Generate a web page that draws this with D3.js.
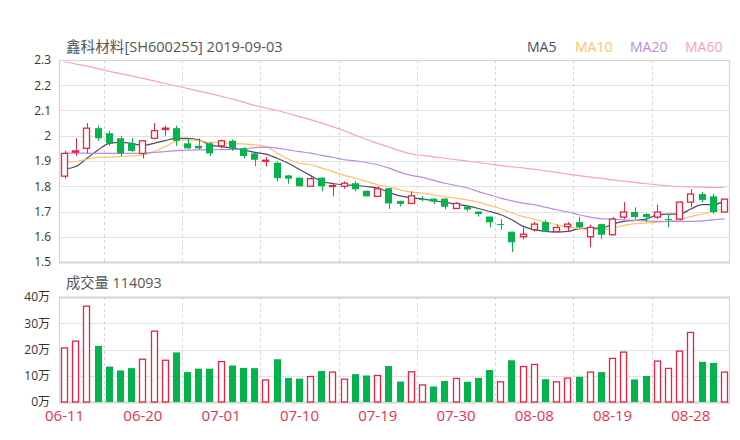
<!DOCTYPE html>
<html>
<head>
<meta charset="utf-8">
<script src="https://cdn.jsdelivr.net/npm/d3@7/dist/d3.min.js"></script>
<style>
html,body{margin:0;padding:0;background:#fff;}
svg{display:block;font-family:'Open Sans','Noto Sans CJK SC',sans-serif;}
</style>
</head>
<body>
<svg id="chart" width="740" height="440"></svg>
<script>
const title = "鑫科材料[SH600255] 2019-09-03";
const volTitle = "成交量 114093";
const dates = ["06-11","06-12","06-13","06-14","06-17","06-18","06-19","06-20","06-21","06-24",
  "06-25","06-26","06-27","06-28","07-01","07-02","07-03","07-04","07-05","07-08",
  "07-09","07-10","07-11","07-12","07-15","07-16","07-17","07-18","07-19","07-22",
  "07-23","07-24","07-25","07-26","07-29","07-30","07-31","08-01","08-02","08-05",
  "08-06","08-07","08-08","08-09","08-12","08-13","08-14","08-15","08-16","08-19",
  "08-20","08-21","08-22","08-23","08-26","08-27","08-28","08-29","08-30","09-02"];
const open  = [1.84,1.935,1.95,2.03,2.01,1.99,1.97,1.93,1.99,2.025,
  2.03,1.97,1.96,1.97,1.96,1.98,1.95,1.93,1.90,1.893,
  1.843,1.834,1.80,1.834,1.80,1.80,1.812,1.782,1.76,1.792,
  1.742,1.732,1.75,1.751,1.751,1.712,1.72,1.70,1.68,1.65,
  1.62,1.60,1.628,1.658,1.62,1.64,1.658,1.60,1.65,1.608,
  1.678,1.698,1.69,1.678,1.67,1.67,1.737,1.769,1.76,1.698];
const high  = [1.94,1.99,2.05,2.04,2.02,2.00,1.99,1.98,2.05,2.04,
  2.04,1.99,1.99,1.975,1.985,1.985,1.955,1.932,1.915,1.897,
  1.845,1.835,1.84,1.835,1.81,1.819,1.82,1.783,1.80,1.793,
  1.743,1.78,1.76,1.752,1.752,1.737,1.722,1.70,1.68,1.67,
  1.62,1.637,1.658,1.667,1.648,1.658,1.678,1.648,1.652,1.678,
  1.737,1.717,1.693,1.727,1.687,1.74,1.789,1.777,1.77,1.749];
const low   = [1.83,1.92,1.93,1.98,1.96,1.92,1.935,1.91,1.986,2.00,
  1.96,1.948,1.945,1.92,1.95,1.94,1.91,1.88,1.878,1.82,
  1.81,1.80,1.80,1.78,1.76,1.79,1.78,1.76,1.76,1.71,
  1.72,1.73,1.74,1.73,1.709,1.71,1.70,1.68,1.637,1.628,
  1.54,1.589,1.62,1.619,1.619,1.62,1.63,1.558,1.59,1.605,
  1.67,1.67,1.658,1.67,1.638,1.665,1.717,1.737,1.69,1.698];
const close = [1.93,1.94,2.03,1.99,1.97,1.93,1.94,1.98,2.02,2.03,
  1.98,1.95,1.95,1.93,1.98,1.95,1.92,1.905,1.903,1.832,
  1.83,1.80,1.83,1.80,1.803,1.812,1.788,1.76,1.79,1.732,
  1.73,1.762,1.75,1.739,1.719,1.732,1.708,1.69,1.657,1.65,
  1.578,1.61,1.65,1.62,1.637,1.65,1.637,1.637,1.608,1.67,
  1.698,1.678,1.678,1.698,1.67,1.737,1.769,1.746,1.698,1.749];
// volume in 万
const volume = [20.6,23.2,36.5,21.4,13.5,12.0,12.9,16.3,27.0,15.9,
  18.9,11.4,12.7,12.7,15.4,13.9,13.0,12.9,8.4,16.3,
  9.2,8.9,9.7,11.8,11.4,8.7,10.6,10.1,10.1,13.7,
  7.8,11.5,6.5,5.9,8.0,9.0,7.7,9.2,12.2,7.7,
  15.9,13.5,14.3,8.7,7.7,9.1,9.6,11.4,11.4,16.6,
  19.0,8.6,9.9,15.6,12.8,19.4,26.5,15.3,14.9,11.41];
const ma5 = [1.868,1.878,1.911,1.944,1.97,1.974,1.97,1.961,1.97,1.981,
  1.99,1.99,1.984,1.964,1.957,1.951,1.944,1.934,1.927,1.911,
  1.891,1.866,1.842,1.819,1.811,1.806,1.803,1.799,1.793,1.776,
  1.762,1.754,1.750,1.742,1.737,1.729,1.722,1.712,1.700,1.687,
  1.667,1.641,1.628,1.621,1.619,1.621,1.632,1.634,1.634,1.650,
  1.661,1.665,1.670,1.687,1.690,1.690,1.710,1.727,1.727,1.742];
const ma10 = [1.895,1.898,1.907,1.914,1.915,1.918,1.92,1.924,1.937,1.957,
  1.98,1.984,1.981,1.974,1.973,1.97,1.968,1.964,1.957,1.931,
  1.907,1.891,1.885,1.872,1.858,1.843,1.832,1.819,1.806,1.797,
  1.786,1.777,1.773,1.766,1.757,1.753,1.746,1.737,1.724,1.711,
  1.694,1.68,1.67,1.657,1.648,1.638,1.632,1.628,1.628,1.634,
  1.644,1.652,1.654,1.658,1.661,1.667,1.68,1.69,1.70,1.711];
const ma20 = [1.931,1.931,1.931,1.930,1.930,1.930,1.930,1.931,1.934,1.937,
  1.941,1.943,1.944,1.944,1.945,1.946,1.948,1.953,1.955,1.951,
  1.944,1.937,1.931,1.922,1.914,1.905,1.901,1.894,1.885,1.872,
  1.855,1.843,1.835,1.823,1.812,1.803,1.793,1.779,1.766,1.753,
  1.742,1.733,1.727,1.717,1.707,1.698,1.687,1.678,1.671,1.67,
  1.667,1.665,1.663,1.661,1.661,1.661,1.661,1.663,1.667,1.671];
const ma60 = [2.293,2.284,2.276,2.266,2.255,2.246,2.237,2.227,2.217,2.207,
  2.197,2.187,2.177,2.167,2.156,2.145,2.133,2.12,2.11,2.10,
  2.088,2.076,2.064,2.05,2.035,2.02,2.002,1.985,1.97,1.955,
  1.94,1.928,1.922,1.916,1.911,1.905,1.90,1.894,1.888,1.882,
  1.877,1.873,1.867,1.861,1.855,1.848,1.842,1.836,1.831,1.825,
  1.82,1.815,1.81,1.806,1.802,1.799,1.797,1.796,1.795,1.795];
const priceTicks = [1.5,1.6,1.7,1.8,1.9,2.0,2.1,2.2,2.3];
const volTicks = [0,10,20,30,40];
const labelIdx = [0,7,14,21,28,35,42,49,56];
const gridIdx = [4,11,18,25,32,39,46,53];
const maNames = ["MA5","MA10","MA20","MA60"];
const maColors = ["#4b4b6b","#ffc266","#b98ae6","#ff9ccc"];
const maSeries = [ma5, ma10, ma20, ma60];

const UP = "#e8233f", DOWN = "#05b34d", GRID = "#e2e2e2", FRAME = "#d6d6d6";
const svg = d3.select("#chart");
const L = 59, R = 730;
const PT = 60, PB = 262, VT = 297, VB = 402;

const x = d3.scaleBand().domain(d3.range(dates.length)).range([L, R]).paddingInner(0.36).paddingOuter(0.18);
const cx = i => x(i) + x.bandwidth() / 2;
const y = d3.scaleLinear().domain([1.5, 2.3]).range([PB, PT]);
const yv = d3.scaleLinear().domain([0, 40]).range([VB, VT]);

// Title & legend
svg.append("text").attr("x", 66).attr("y", 52).attr("font-size", 14.6).attr("fill", "#555").text(title);
const legX = [527, 575, 630, 685];
maNames.forEach((n, k) => {
  svg.append("text").attr("x", legX[k]).attr("y", 52).attr("font-size", 14).attr("fill", maColors[k]).text(n);
});
svg.append("text").attr("x", 66).attr("y", 288).attr("font-size", 14.3).attr("fill", "#555").text(volTitle);

// Price grid
const gP = svg.append("g");
gP.selectAll("line.h").data(priceTicks).join("line")
  .attr("x1", L).attr("x2", R).attr("y1", d => Math.round(y(d)) + 0.5).attr("y2", d => Math.round(y(d)) + 0.5)
  .attr("stroke", GRID).attr("stroke-width", 1);
gP.selectAll("line.v").data(gridIdx).join("line")
  .attr("x1", d => Math.round(x(d) - x.step() * 0.18) + 0.5).attr("x2", d => Math.round(x(d) - x.step() * 0.18) + 0.5)
  .attr("y1", PT).attr("y2", PB).attr("stroke", "#d6d6d6").attr("stroke-dasharray", "3,3");
gP.append("rect").attr("x", L + 0.5).attr("y", PT + 0.5).attr("width", R - L - 1).attr("height", PB - PT)
  .attr("fill", "none").attr("stroke", FRAME).attr("stroke-width", 1.2);
gP.append("line").attr("x1", L).attr("x2", R).attr("y1", PB + 0.5).attr("y2", PB + 0.5).attr("stroke", FRAME).attr("stroke-width", 2);

// price axis labels
const yAxis = d3.axisLeft(y).tickValues(priceTicks).tickSize(0).tickPadding(8).tickFormat(d3.format("~g"));
const ga = svg.append("g").attr("transform", `translate(${L},0)`).call(yAxis);
ga.select(".domain").remove();
ga.selectAll("text").attr("font-size", 12).attr("fill", "#333").attr("font-family", "'Open Sans','Noto Sans CJK SC',sans-serif");

// Volume grid
const gV = svg.append("g");
gV.selectAll("line.h").data(volTicks).join("line")
  .attr("x1", L).attr("x2", R).attr("y1", d => Math.round(yv(d)) + 0.5).attr("y2", d => Math.round(yv(d)) + 0.5)
  .attr("stroke", GRID);
gV.selectAll("line.v").data(gridIdx).join("line")
  .attr("x1", d => Math.round(x(d) - x.step() * 0.18) + 0.5).attr("x2", d => Math.round(x(d) - x.step() * 0.18) + 0.5)
  .attr("y1", VT).attr("y2", VB).attr("stroke", "#d6d6d6").attr("stroke-dasharray", "3,3");
gV.append("rect").attr("x", L + 0.5).attr("y", VT + 0.5).attr("width", R - L - 1).attr("height", VB - VT)
  .attr("fill", "none").attr("stroke", FRAME).attr("stroke-width", 1.2);
gV.append("line").attr("x1", L).attr("x2", R).attr("y1", VT + 0.5).attr("y2", VT + 0.5).attr("stroke", FRAME).attr("stroke-width", 2);
gV.append("line").attr("x1", L).attr("x2", R).attr("y1", VB + 0.5).attr("y2", VB + 0.5).attr("stroke", FRAME).attr("stroke-width", 2);

const vAxis = d3.axisLeft(yv).tickValues(volTicks).tickSize(0).tickPadding(9).tickFormat(d => d + "万");
const gva = svg.append("g").attr("transform", `translate(${L},0)`).call(vAxis);
gva.select(".domain").remove();
gva.selectAll("text").attr("font-size", 12).attr("fill", "#333").attr("font-family", "'Open Sans','Noto Sans CJK SC',sans-serif");

// X labels
const xAxis = d3.axisBottom(x).tickValues(labelIdx).tickSize(0).tickPadding(8).tickFormat(i => dates[i]);
const gx = svg.append("g").attr("transform", `translate(0,${VB})`).call(xAxis);
gx.select(".domain").remove();
gx.selectAll("text").attr("font-size", 15).attr("fill", "#e8334f").attr("font-family", "'Open Sans','Noto Sans CJK SC',sans-serif");

// MA lines
const line = d3.line().x((d, i) => cx(i)).y(d => y(d)).curve(d3.curveMonotoneX);
maSeries.forEach((s, k) => {
  svg.append("path").attr("d", line(s)).attr("fill", "none").attr("stroke", maColors[k]).attr("stroke-width", 1.2);
});

// Candles
const idx = d3.range(dates.length);
const bw = Math.round(x.bandwidth());
const gc = svg.append("g");
idx.forEach(i => {
  const up = close[i] > open[i];
  const col = up ? UP : DOWN;
  const xc = Math.round(cx(i)) + 0.5;
  gc.append("line").attr("x1", xc).attr("x2", xc).attr("y1", y(high[i])).attr("y2", y(low[i])).attr("stroke", col).attr("stroke-width", 1);
  const top = y(Math.max(open[i], close[i])), bot = y(Math.min(open[i], close[i]));
  const h = Math.max(1, bot - top);
  const x0 = Math.round(cx(i) - bw / 2);
  if (up) {
    gc.append("rect").attr("x", x0 + 0.5).attr("y", top).attr("width", bw - 1).attr("height", h)
      .attr("fill", "#fff").attr("stroke", col).attr("stroke-width", 1.3);
  } else {
    gc.append("rect").attr("x", x0).attr("y", top).attr("width", bw).attr("height", h).attr("fill", col);
  }
});

// Volume bars
const gvb = svg.append("g");
idx.forEach(i => {
  const up = close[i] >= open[i];
  const x0 = Math.round(cx(i) - bw / 2);
  const t = yv(volume[i]);
  if (up) {
    gvb.append("rect").attr("x", x0 + 0.5).attr("y", t).attr("width", bw - 1).attr("height", VB - t)
      .attr("fill", "#fff").attr("stroke", UP).attr("stroke-width", 1.3);
  } else {
    gvb.append("rect").attr("x", x0).attr("y", t).attr("width", bw).attr("height", VB - t).attr("fill", DOWN);
  }
});
</script>
</body>
</html>
